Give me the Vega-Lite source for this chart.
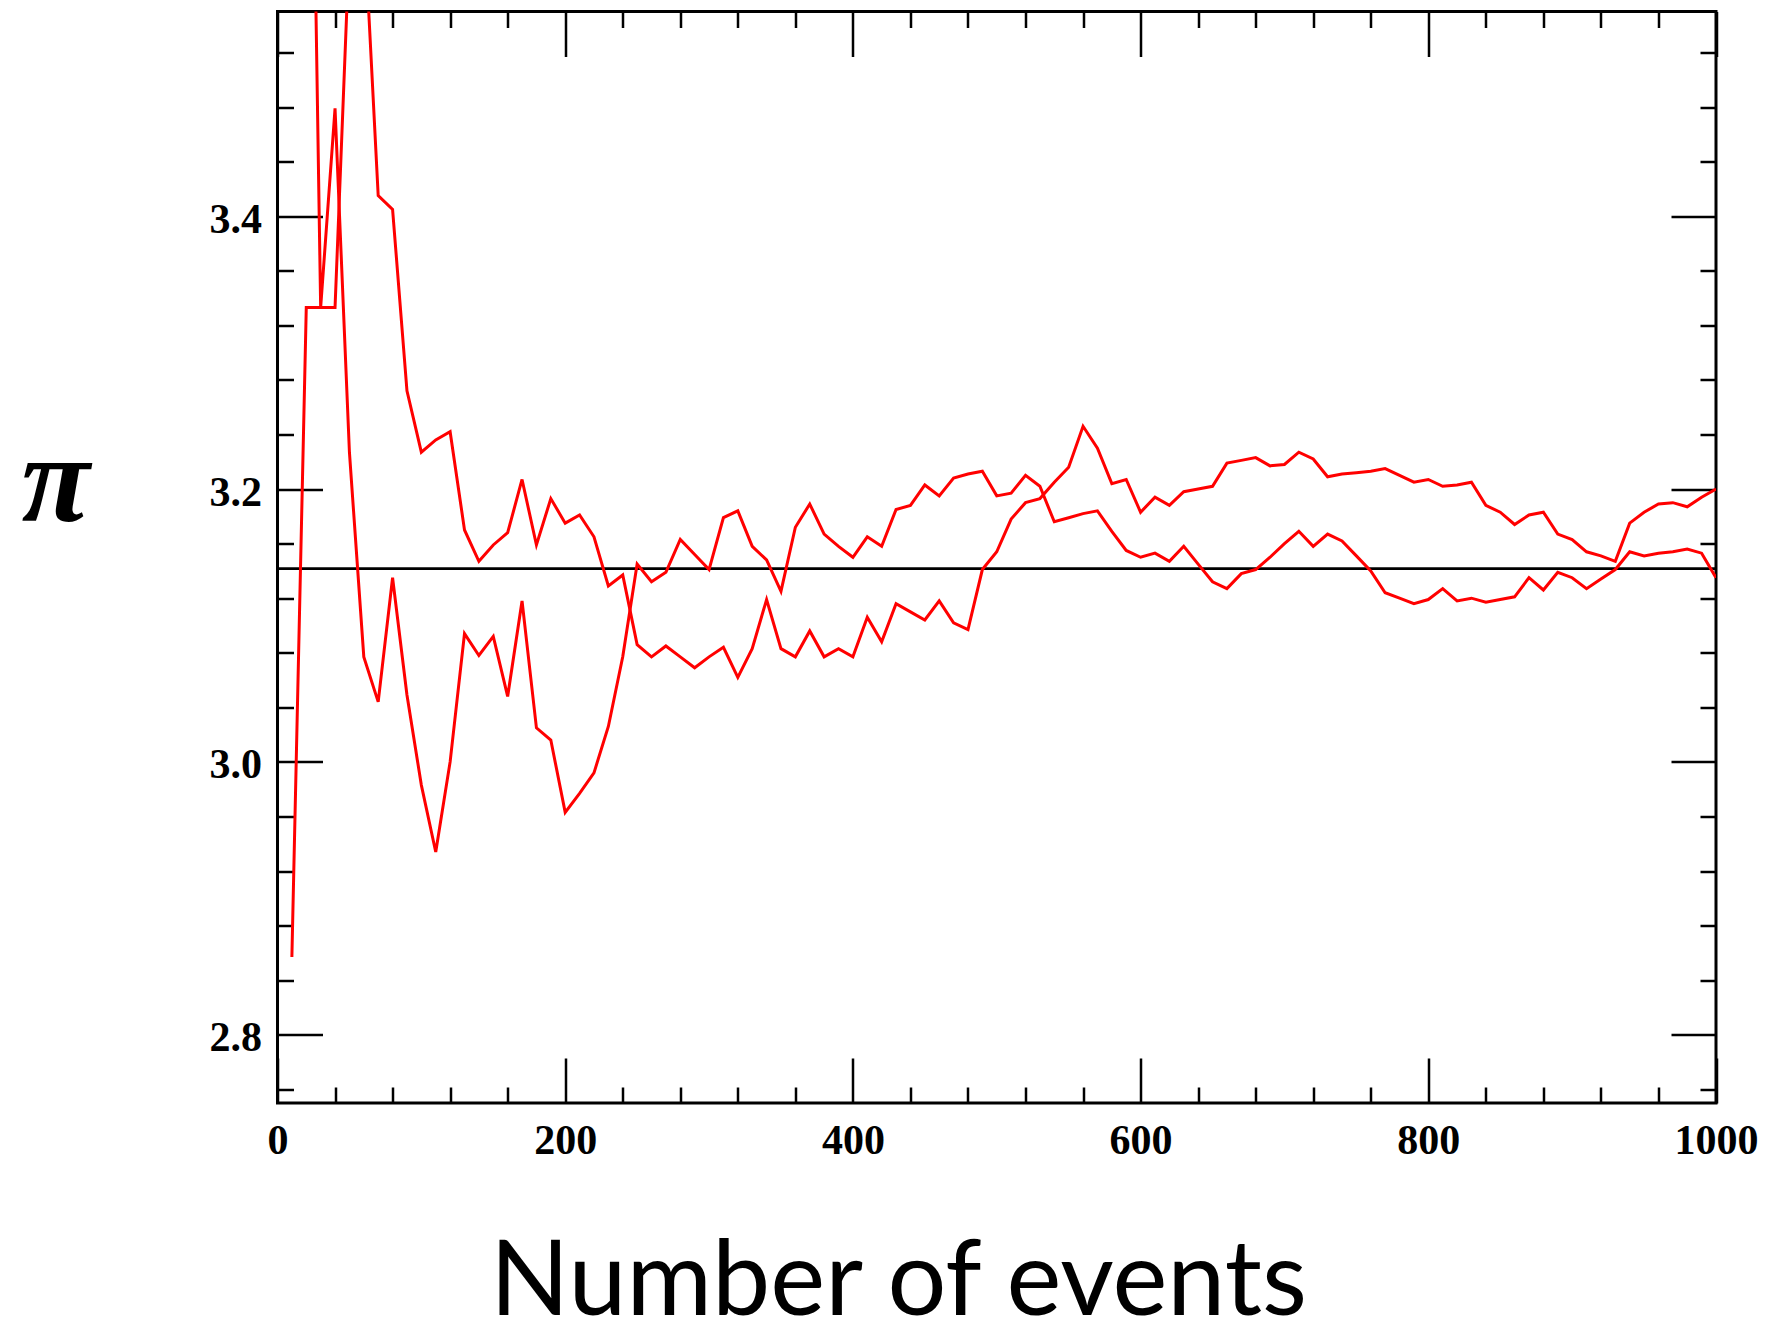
{
  "$schema": "https://vega.github.io/schema/vega-lite/v6.json",
  "width": 1438.5,
  "height": 1091.5,
  "autosize": {"type": "none"},
  "padding": {"left": 277.5, "top": 11.5, "right": 61, "bottom": 227},
  "background": "white",
  "config": {
    "view": {"stroke": "black", "strokeWidth": 3},
    "axis": {
      "domain": false,
      "grid": false,
      "tickColor": "black",
      "tickWidth": 2.5,
      "labelFont": "Liberation Serif",
      "labelFontWeight": "bold",
      "labelFontSize": 42,
      "labelColor": "black",
      "titleColor": "black"
    }
  },
  "datasets": {
    "ref": [{"events": 0, "pi": 3.14159}, {"events": 1000, "pi": 3.14159}],
    "runs": [
      {"run": "A", "events": 10, "pi": 2.857}, {"run": "A", "events": 20, "pi": 3.333}, {"run": "A", "events": 30, "pi": 3.333}, {"run": "A", "events": 40, "pi": 3.333}, {"run": "A", "events": 50, "pi": 3.6}, {"run": "A", "events": 60, "pi": 3.62}, {"run": "A", "events": 70, "pi": 3.415}, {"run": "A", "events": 80, "pi": 3.405}, {"run": "A", "events": 90, "pi": 3.272}, {"run": "A", "events": 100, "pi": 3.227},
      {"run": "A", "events": 110, "pi": 3.236}, {"run": "A", "events": 120, "pi": 3.242}, {"run": "A", "events": 130, "pi": 3.170}, {"run": "A", "events": 140, "pi": 3.147}, {"run": "A", "events": 150, "pi": 3.159}, {"run": "A", "events": 160, "pi": 3.168}, {"run": "A", "events": 170, "pi": 3.207}, {"run": "A", "events": 180, "pi": 3.159}, {"run": "A", "events": 190, "pi": 3.193}, {"run": "A", "events": 200, "pi": 3.175},
      {"run": "A", "events": 210, "pi": 3.181}, {"run": "A", "events": 220, "pi": 3.165}, {"run": "A", "events": 230, "pi": 3.129}, {"run": "A", "events": 240, "pi": 3.137}, {"run": "A", "events": 250, "pi": 3.086}, {"run": "A", "events": 260, "pi": 3.077}, {"run": "A", "events": 270, "pi": 3.085}, {"run": "A", "events": 280, "pi": 3.077}, {"run": "A", "events": 290, "pi": 3.069}, {"run": "A", "events": 300, "pi": 3.077},
      {"run": "A", "events": 310, "pi": 3.084}, {"run": "A", "events": 320, "pi": 3.062}, {"run": "A", "events": 330, "pi": 3.083}, {"run": "A", "events": 340, "pi": 3.119}, {"run": "A", "events": 350, "pi": 3.083}, {"run": "A", "events": 360, "pi": 3.077}, {"run": "A", "events": 370, "pi": 3.096}, {"run": "A", "events": 380, "pi": 3.077}, {"run": "A", "events": 390, "pi": 3.083}, {"run": "A", "events": 400, "pi": 3.077},
      {"run": "A", "events": 410, "pi": 3.106}, {"run": "A", "events": 420, "pi": 3.088}, {"run": "A", "events": 430, "pi": 3.116}, {"run": "A", "events": 440, "pi": 3.110}, {"run": "A", "events": 450, "pi": 3.104}, {"run": "A", "events": 460, "pi": 3.118}, {"run": "A", "events": 470, "pi": 3.102}, {"run": "A", "events": 480, "pi": 3.097}, {"run": "A", "events": 490, "pi": 3.141}, {"run": "A", "events": 500, "pi": 3.154},
      {"run": "A", "events": 510, "pi": 3.178}, {"run": "A", "events": 520, "pi": 3.190}, {"run": "A", "events": 530, "pi": 3.193}, {"run": "A", "events": 540, "pi": 3.205}, {"run": "A", "events": 550, "pi": 3.216}, {"run": "A", "events": 560, "pi": 3.246}, {"run": "A", "events": 570, "pi": 3.230}, {"run": "A", "events": 580, "pi": 3.204}, {"run": "A", "events": 590, "pi": 3.207}, {"run": "A", "events": 600, "pi": 3.183},
      {"run": "A", "events": 610, "pi": 3.194}, {"run": "A", "events": 620, "pi": 3.188}, {"run": "A", "events": 630, "pi": 3.198}, {"run": "A", "events": 640, "pi": 3.200}, {"run": "A", "events": 650, "pi": 3.202}, {"run": "A", "events": 660, "pi": 3.219}, {"run": "A", "events": 670, "pi": 3.221}, {"run": "A", "events": 680, "pi": 3.223}, {"run": "A", "events": 690, "pi": 3.217}, {"run": "A", "events": 700, "pi": 3.218},
      {"run": "A", "events": 710, "pi": 3.227}, {"run": "A", "events": 720, "pi": 3.222}, {"run": "A", "events": 730, "pi": 3.209}, {"run": "A", "events": 740, "pi": 3.211}, {"run": "A", "events": 750, "pi": 3.212}, {"run": "A", "events": 760, "pi": 3.213}, {"run": "A", "events": 770, "pi": 3.215}, {"run": "A", "events": 780, "pi": 3.210}, {"run": "A", "events": 790, "pi": 3.205}, {"run": "A", "events": 800, "pi": 3.207},
      {"run": "A", "events": 810, "pi": 3.202}, {"run": "A", "events": 820, "pi": 3.203}, {"run": "A", "events": 830, "pi": 3.205}, {"run": "A", "events": 840, "pi": 3.188}, {"run": "A", "events": 850, "pi": 3.183}, {"run": "A", "events": 860, "pi": 3.174}, {"run": "A", "events": 870, "pi": 3.181}, {"run": "A", "events": 880, "pi": 3.183}, {"run": "A", "events": 890, "pi": 3.167}, {"run": "A", "events": 900, "pi": 3.163},
      {"run": "A", "events": 910, "pi": 3.154}, {"run": "A", "events": 920, "pi": 3.151}, {"run": "A", "events": 930, "pi": 3.147}, {"run": "A", "events": 940, "pi": 3.175}, {"run": "A", "events": 950, "pi": 3.183}, {"run": "A", "events": 960, "pi": 3.189}, {"run": "A", "events": 970, "pi": 3.190}, {"run": "A", "events": 980, "pi": 3.187}, {"run": "A", "events": 990, "pi": 3.194}, {"run": "A", "events": 1000, "pi": 3.200},
      {"run": "B", "events": 10, "pi": 4.0}, {"run": "B", "events": 20, "pi": 4.0}, {"run": "B", "events": 30, "pi": 3.333}, {"run": "B", "events": 40, "pi": 3.479}, {"run": "B", "events": 50, "pi": 3.227}, {"run": "B", "events": 60, "pi": 3.077}, {"run": "B", "events": 70, "pi": 3.044}, {"run": "B", "events": 80, "pi": 3.135}, {"run": "B", "events": 90, "pi": 3.049}, {"run": "B", "events": 100, "pi": 2.983},
      {"run": "B", "events": 110, "pi": 2.934}, {"run": "B", "events": 120, "pi": 3.000}, {"run": "B", "events": 130, "pi": 3.094}, {"run": "B", "events": 140, "pi": 3.078}, {"run": "B", "events": 150, "pi": 3.092}, {"run": "B", "events": 160, "pi": 3.048}, {"run": "B", "events": 170, "pi": 3.118}, {"run": "B", "events": 180, "pi": 3.025}, {"run": "B", "events": 190, "pi": 3.016}, {"run": "B", "events": 200, "pi": 2.963},
      {"run": "B", "events": 210, "pi": 2.977}, {"run": "B", "events": 220, "pi": 2.992}, {"run": "B", "events": 230, "pi": 3.026}, {"run": "B", "events": 240, "pi": 3.077}, {"run": "B", "events": 250, "pi": 3.145}, {"run": "B", "events": 260, "pi": 3.132}, {"run": "B", "events": 270, "pi": 3.139}, {"run": "B", "events": 280, "pi": 3.163}, {"run": "B", "events": 290, "pi": 3.152}, {"run": "B", "events": 300, "pi": 3.141},
      {"run": "B", "events": 310, "pi": 3.179}, {"run": "B", "events": 320, "pi": 3.184}, {"run": "B", "events": 330, "pi": 3.158}, {"run": "B", "events": 340, "pi": 3.148}, {"run": "B", "events": 350, "pi": 3.125}, {"run": "B", "events": 360, "pi": 3.172}, {"run": "B", "events": 370, "pi": 3.189}, {"run": "B", "events": 380, "pi": 3.167}, {"run": "B", "events": 390, "pi": 3.158}, {"run": "B", "events": 400, "pi": 3.150},
      {"run": "B", "events": 410, "pi": 3.165}, {"run": "B", "events": 420, "pi": 3.158}, {"run": "B", "events": 430, "pi": 3.185}, {"run": "B", "events": 440, "pi": 3.188}, {"run": "B", "events": 450, "pi": 3.203}, {"run": "B", "events": 460, "pi": 3.195}, {"run": "B", "events": 470, "pi": 3.208}, {"run": "B", "events": 480, "pi": 3.211}, {"run": "B", "events": 490, "pi": 3.213}, {"run": "B", "events": 500, "pi": 3.195},
      {"run": "B", "events": 510, "pi": 3.197}, {"run": "B", "events": 520, "pi": 3.210}, {"run": "B", "events": 530, "pi": 3.202}, {"run": "B", "events": 540, "pi": 3.176}, {"run": "B", "events": 550, "pi": 3.179}, {"run": "B", "events": 560, "pi": 3.182}, {"run": "B", "events": 570, "pi": 3.184}, {"run": "B", "events": 580, "pi": 3.169}, {"run": "B", "events": 590, "pi": 3.155}, {"run": "B", "events": 600, "pi": 3.150},
      {"run": "B", "events": 610, "pi": 3.153}, {"run": "B", "events": 620, "pi": 3.147}, {"run": "B", "events": 630, "pi": 3.158}, {"run": "B", "events": 640, "pi": 3.145}, {"run": "B", "events": 650, "pi": 3.132}, {"run": "B", "events": 660, "pi": 3.127}, {"run": "B", "events": 670, "pi": 3.138}, {"run": "B", "events": 680, "pi": 3.141}, {"run": "B", "events": 690, "pi": 3.150}, {"run": "B", "events": 700, "pi": 3.160},
      {"run": "B", "events": 710, "pi": 3.169}, {"run": "B", "events": 720, "pi": 3.158}, {"run": "B", "events": 730, "pi": 3.167}, {"run": "B", "events": 740, "pi": 3.162}, {"run": "B", "events": 750, "pi": 3.151}, {"run": "B", "events": 760, "pi": 3.140}, {"run": "B", "events": 770, "pi": 3.124}, {"run": "B", "events": 780, "pi": 3.120}, {"run": "B", "events": 790, "pi": 3.116}, {"run": "B", "events": 800, "pi": 3.119},
      {"run": "B", "events": 810, "pi": 3.127}, {"run": "B", "events": 820, "pi": 3.118}, {"run": "B", "events": 830, "pi": 3.120}, {"run": "B", "events": 840, "pi": 3.117}, {"run": "B", "events": 850, "pi": 3.119}, {"run": "B", "events": 860, "pi": 3.121}, {"run": "B", "events": 870, "pi": 3.135}, {"run": "B", "events": 880, "pi": 3.126}, {"run": "B", "events": 890, "pi": 3.139}, {"run": "B", "events": 900, "pi": 3.135},
      {"run": "B", "events": 910, "pi": 3.127}, {"run": "B", "events": 920, "pi": 3.134}, {"run": "B", "events": 930, "pi": 3.141}, {"run": "B", "events": 940, "pi": 3.154}, {"run": "B", "events": 950, "pi": 3.151}, {"run": "B", "events": 960, "pi": 3.153}, {"run": "B", "events": 970, "pi": 3.154}, {"run": "B", "events": 980, "pi": 3.156}, {"run": "B", "events": 990, "pi": 3.153}, {"run": "B", "events": 1000, "pi": 3.135}
    ]
  },
  "layer": [
    {
      "data": {"name": "ref"},
      "mark": {"type": "line", "color": "black", "strokeWidth": 2.8, "clip": true},
      "encoding": {
        "x": {
          "field": "events", "type": "quantitative",
          "scale": {"domain": [0, 1000], "nice": false, "zero": false},
          "axis": {
            "orient": "bottom",
            "values": [0, 40, 80, 120, 160, 200, 240, 280, 320, 360, 400, 440, 480, 520, 560, 600, 640, 680, 720, 760, 800, 840, 880, 920, 960, 1000],
            "tickSize": -45,
            "tickDash": {"condition": {"test": "datum.value % 200 === 0", "value": [1, 0]}, "value": [16, 100]},
            "labelExpr": "datum.value % 200 === 0 ? format(datum.value, 'd') : ''",
            "labelPadding": 62,
            "labelFlush": false,
            "labelOverlap": false,
            "title": "Number of events",
            "titleFont": "Lato",
            "titleFontSize": 104,
            "titleFontWeight": "normal",
            "titleX": 620.5,
            "titleY": 211,
            "titleAlign": "center",
            "titleBaseline": "alphabetic"
          }
        },
        "y": {
          "field": "pi", "type": "quantitative",
          "scale": {"domain": [2.75, 3.55], "nice": false, "zero": false},
          "axis": {
            "orient": "left",
            "values": [2.76, 2.8, 2.84, 2.88, 2.92, 2.96, 3.0, 3.04, 3.08, 3.12, 3.16, 3.2, 3.24, 3.28, 3.32, 3.36, 3.4, 3.44, 3.48, 3.52],
            "tickSize": -45,
            "tickDash": {"condition": {"test": "abs(datum.value*5 - round(datum.value*5)) < 0.001", "value": [1, 0]}, "value": [16, 100]},
            "labelExpr": "abs(datum.value*5 - round(datum.value*5)) < 0.001 ? format(datum.value, '.1f') : ''",
            "labelPadding": 61,
            "labelOffset": 3,
            "labelOverlap": false,
            "labelFlush": false,
            "title": "π",
            "titleFont": "Liberation Serif",
            "titleFontStyle": "italic",
            "titleFontWeight": "bold",
            "titleFontSize": 125,
            "titleAngle": 0,
            "titleX": -222.5,
            "titleY": 470.5,
            "titleAlign": "center",
            "titleBaseline": "middle"
          }
        }
      }
    },
    {
      "data": {"name": "runs"},
      "mark": {"type": "line", "color": "#ff0000", "strokeWidth": 3, "clip": true},
      "encoding": {
        "x": {
          "field": "events", "type": "quantitative",
          "scale": {"domain": [0, 1000], "nice": false, "zero": false},
          "axis": {
            "orient": "top",
            "values": [0, 40, 80, 120, 160, 200, 240, 280, 320, 360, 400, 440, 480, 520, 560, 600, 640, 680, 720, 760, 800, 840, 880, 920, 960, 1000],
            "tickSize": -45,
            "tickDash": {"condition": {"test": "datum.value % 200 === 0", "value": [1, 0]}, "value": [16, 100]},
            "labels": false,
            "title": null
          }
        },
        "y": {
          "field": "pi", "type": "quantitative",
          "scale": {"domain": [2.75, 3.55], "nice": false, "zero": false},
          "axis": {
            "orient": "right",
            "values": [2.76, 2.8, 2.84, 2.88, 2.92, 2.96, 3.0, 3.04, 3.08, 3.12, 3.16, 3.2, 3.24, 3.28, 3.32, 3.36, 3.4, 3.44, 3.48, 3.52],
            "tickSize": -45,
            "tickDash": {"condition": {"test": "abs(datum.value*5 - round(datum.value*5)) < 0.001", "value": [1, 0]}, "value": [16, 100]},
            "labels": false,
            "title": null
          }
        },
        "detail": {"field": "run", "type": "nominal"}
      }
    }
  ],
  "resolve": {"axis": {"x": "independent", "y": "independent"}}
}
